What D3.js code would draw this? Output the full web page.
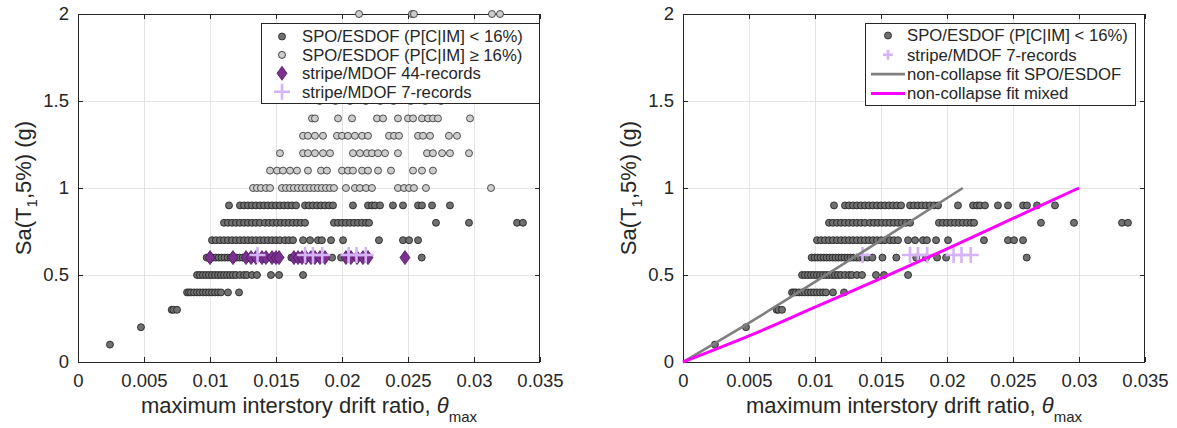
<!DOCTYPE html>
<html>
<head>
<meta charset="utf-8">
<script src="https://cdn.jsdelivr.net/npm/d3@7"></script>
<style>
  body { margin: 0; background: #fff; }
  text { font-family: "Liberation Sans", Arial, sans-serif; fill: #262626; }
</style>
</head>
<body>
<svg id="chart" width="1177" height="428"></svg>
<script>
// Tick values and labels
var driftTicks = [0, 0.005, 0.01, 0.015, 0.02, 0.025, 0.03, 0.035];
var driftTickLabels = ["0", "0.005", "0.01", "0.015", "0.02", "0.025", "0.03", "0.035"];
var saTicks = [0, 0.5, 1, 1.5, 2];
var saTickLabels = ["0", "0.5", "1", "1.5", "2"];

// SPO/ESDOF results with P[C|IM] < 16%: [Sa, list of drifts]
var spoLowRows = [
  [0.1, [0.00242]],
  [0.2, [0.00477]],
  [0.3, [0.0071, 0.00723, 0.0075]],
  [0.4, [0.00826, 0.00841, 0.00856, 0.00879, 0.00902, 0.00924, 0.00947, 0.0097, 0.00992, 0.01015, 0.01038, 0.01061, 0.01083, 0.01136, 0.0122]],
  [0.5, [0.00902, 0.00924, 0.00947, 0.0097, 0.00992, 0.01015, 0.01038, 0.01061, 0.01083, 0.01106, 0.01129, 0.01152, 0.01174, 0.01197, 0.01227, 0.01258, 0.0128, 0.01318, 0.01356, 0.01462, 0.01523, 0.01705]],
  [0.6, [0.00975, 0.00998, 0.0102, 0.01043, 0.01066, 0.01088, 0.01111, 0.01134, 0.01156, 0.01179, 0.01201, 0.01224, 0.01247, 0.01269, 0.01292, 0.01315, 0.01337, 0.01367, 0.01397, 0.01435, 0.01511, 0.01616, 0.01767, 0.01842, 0.01925, 0.01993, 0.02604]],
  [0.7, [0.01015, 0.01045, 0.01076, 0.01106, 0.01136, 0.01167, 0.01197, 0.01227, 0.01258, 0.01288, 0.01318, 0.01348, 0.01379, 0.01409, 0.01439, 0.0147, 0.015, 0.0153, 0.01568, 0.01598, 0.01629, 0.01705, 0.01758, 0.01818, 0.01848, 0.01917, 0.02008, 0.0228, 0.02462, 0.02508, 0.02576]],
  [0.8, [0.01106, 0.01136, 0.01167, 0.01197, 0.01227, 0.01258, 0.01288, 0.01318, 0.01348, 0.01379, 0.01417, 0.01447, 0.01477, 0.01508, 0.01538, 0.01568, 0.01598, 0.01629, 0.01659, 0.01689, 0.0172, 0.01939, 0.0197, 0.02, 0.0203, 0.02061, 0.02091, 0.02121, 0.02152, 0.02182, 0.02205, 0.02712, 0.02962, 0.03326, 0.03371]],
  [0.9, [0.01144, 0.01227, 0.01258, 0.01288, 0.01318, 0.01348, 0.01379, 0.01409, 0.01439, 0.0147, 0.015, 0.0153, 0.01561, 0.01591, 0.01621, 0.01652, 0.0172, 0.0175, 0.0178, 0.01811, 0.01841, 0.01871, 0.01902, 0.01932, 0.02083, 0.02197, 0.02227, 0.0225, 0.02288, 0.02386, 0.02462, 0.02576, 0.02606, 0.02682, 0.02818]]
];

// SPO/ESDOF results with P[C|IM] >= 16%
var spoHighRows = [
  [1.0, [0.01326, 0.01356, 0.01386, 0.01424, 0.01455, 0.01545, 0.01576, 0.01606, 0.01636, 0.01667, 0.01697, 0.01727, 0.01758, 0.01788, 0.01818, 0.01848, 0.01879, 0.01909, 0.01939, 0.0203, 0.02098, 0.02136, 0.02182, 0.02227, 0.02424, 0.0247, 0.02508, 0.02545, 0.02636, 0.03129]],
  [1.1, [0.01455, 0.01508, 0.01553, 0.01606, 0.01659, 0.01742, 0.01841, 0.01886, 0.02, 0.02045, 0.02083, 0.02152, 0.02197, 0.02273, 0.02371, 0.02538, 0.02606, 0.02689]],
  [1.2, [0.0153, 0.01705, 0.01742, 0.01795, 0.01856, 0.01909, 0.02083, 0.02136, 0.02189, 0.02227, 0.02273, 0.02326, 0.02424, 0.02644, 0.02689, 0.02758, 0.02818, 0.02962]],
  [1.3, [0.01705, 0.01742, 0.01795, 0.01856, 0.01962, 0.02, 0.02045, 0.02098, 0.02152, 0.02197, 0.02356, 0.02394, 0.02432, 0.02576, 0.02614, 0.02667, 0.0281, 0.02871]],
  [1.4, [0.01773, 0.01795, 0.0197, 0.02076, 0.02265, 0.02311, 0.02424, 0.025, 0.02538, 0.02606, 0.02652, 0.02689, 0.02727, 0.0297]],
  [1.5, [0.0183, 0.0195, 0.0206, 0.0218, 0.0229, 0.0239, 0.0252, 0.0263, 0.0275]],
  [2.0, [0.02129, 0.0253, 0.02545, 0.03136, 0.03197]]
];

// Stripe analyses on the MDOF model
var stripe44Sa = 0.6;
var stripe44Drift = [0.01, 0.01174, 0.01273, 0.01311, 0.01348, 0.01394, 0.01424, 0.0147, 0.015, 0.01523, 0.01636, 0.01667, 0.01697, 0.01727, 0.01765, 0.01795, 0.01833, 0.01871, 0.0203, 0.02068, 0.02114, 0.02159, 0.02197, 0.02477];
var stripe7Sa = 0.615;
var stripe7Drift = [0.0136, 0.0172, 0.0178, 0.0185, 0.0205, 0.0211, 0.0218];

// Non-collapse fits: [drift, Sa]
var fitSpo = [[0, 0], [0.005, 0.225], [0.01, 0.46], [0.015, 0.70], [0.0212, 1.0]];
var fitMixed = [[0, 0], [0.005, 0.15], [0.01, 0.315], [0.015, 0.48], [0.02, 0.65], [0.025, 0.825], [0.03, 1.0]];

// Flatten the rows into points
function flatten(rows) {
  var pts = [];
  rows.forEach(function(r) {
    r[1].forEach(function(d) { pts.push([d, r[0]]); });
  });
  return pts;
}
var spoLow = flatten(spoLowRows);
var spoHigh = flatten(spoHighRows);

var svg = d3.select("#chart");

var plotTop = 14, plotBottom = 362;
var ink = "#262626";
var darkFill = "#707070", lightFill = "#cdcdcd";
var diamondFill = "#7b2f8f", crossColor = "#d5b3f7";
var diamondPath = "M0,-7L5,0L0,7L-5,0Z";
var crossPath = "M-8,0H8M0,-8V8";

function drawPanel(left, right, isFitPanel) {
  var x = d3.scaleLinear().domain([0, 0.035]).range([left, right]);
  var y = d3.scaleLinear().domain([0, 2]).range([plotBottom, plotTop]);
  var g = svg.append("g");

  // grid
  g.append("g").selectAll("line")
    .data(driftTicks.slice(1, -1))
    .enter().append("line")
    .attr("x1", d => Math.round(x(d)) + 0.5).attr("x2", d => Math.round(x(d)) + 0.5)
    .attr("y1", plotTop).attr("y2", plotBottom)
    .attr("stroke", "#e4e4e4");
  g.append("g").selectAll("line")
    .data(saTicks.slice(1, -1))
    .enter().append("line")
    .attr("y1", d => Math.round(y(d)) + 0.5).attr("y2", d => Math.round(y(d)) + 0.5)
    .attr("x1", left).attr("x2", right)
    .attr("stroke", "#e4e4e4");

  // axes (ticks point inward, mirrored on top and right)
  var xAxis = g.append("g")
    .attr("transform", `translate(0, ${plotBottom})`)
    .call(d3.axisBottom(x).tickValues(driftTicks)
      .tickFormat((d, i) => driftTickLabels[i]).tickSizeInner(-5).tickSizeOuter(0).tickPadding(12));
  var yAxis = g.append("g")
    .attr("transform", `translate(${left}, 0)`)
    .call(d3.axisLeft(y).tickValues(saTicks)
      .tickFormat((d, i) => saTickLabels[i]).tickSizeInner(-5).tickSizeOuter(0).tickPadding(9));
  var xTop = g.append("g")
    .attr("transform", `translate(0, ${plotTop})`)
    .call(d3.axisTop(x).tickValues(driftTicks).tickFormat("").tickSizeInner(-5).tickSizeOuter(0));
  var yRight = g.append("g")
    .attr("transform", `translate(${right}, 0)`)
    .call(d3.axisRight(y).tickValues(saTicks).tickFormat("").tickSizeInner(-5).tickSizeOuter(0));
  [xAxis, yAxis, xTop, yRight].forEach(function(a) {
    a.select(".domain").remove();
    a.selectAll(".tick line").attr("stroke", ink);
    a.selectAll(".tick text").attr("font-size", 18.5).attr("font-family", "Liberation Sans, Arial, sans-serif").attr("fill", ink);
  });

  // box
  g.append("rect")
    .attr("x", left + 0.5).attr("y", plotTop + 0.5)
    .attr("width", right - left - 1).attr("height", plotBottom - plotTop)
    .attr("fill", "none").attr("stroke", ink).attr("stroke-width", 1);

  // data
  g.append("g").selectAll("circle")
    .data(spoLow).enter().append("circle")
    .attr("cx", d => x(d[0])).attr("cy", d => y(d[1])).attr("r", 3.5)
    .attr("fill", darkFill).attr("stroke", "#1a1a1a").attr("stroke-width", 0.8);

  if (!isFitPanel) {
    g.append("g").selectAll("circle")
      .data(spoHigh).enter().append("circle")
      .attr("cx", d => x(d[0])).attr("cy", d => y(d[1])).attr("r", 3.5)
      .attr("fill", lightFill).attr("stroke", "#2a2a2a").attr("stroke-width", 0.8);

    g.append("g").selectAll("path")
      .data(stripe44Drift).enter().append("path")
      .attr("d", diamondPath)
      .attr("transform", d => `translate(${x(d)}, ${y(stripe44Sa)})`)
      .attr("fill", diamondFill).attr("stroke", "#4a1760").attr("stroke-width", 0.8);
  }

  g.append("g").selectAll("path")
    .data(stripe7Drift).enter().append("path")
    .attr("d", crossPath)
    .attr("transform", d => `translate(${x(d)}, ${y(stripe7Sa)})`)
    .attr("fill", "none").attr("stroke", crossColor).attr("stroke-width", 2.6);

  if (isFitPanel) {
    var line = d3.line().x(d => x(d[0])).y(d => y(d[1])).curve(d3.curveMonotoneX);
    g.append("path").datum(fitSpo).attr("d", line)
      .attr("fill", "none").attr("stroke", "#7f7f7f").attr("stroke-width", 2.6);
    g.append("path").datum(fitMixed).attr("d", line)
      .attr("fill", "none").attr("stroke", "#ff00ff").attr("stroke-width", 3);
  }

  // axis titles
  var xl = g.append("text")
    .attr("x", (left + right) / 2).attr("y", 413)
    .attr("text-anchor", "middle").attr("font-size", 22);
  xl.append("tspan").text("maximum interstory drift ratio, ");
  xl.append("tspan").attr("font-style", "italic").text("\u03b8");
  xl.append("tspan").attr("font-size", 15).attr("dy", 9).text("max");

  var yl = g.append("text")
    .attr("transform", `translate(${left - 47}, ${(plotTop + plotBottom) / 2}) rotate(-90)`)
    .attr("text-anchor", "middle").attr("font-size", 22);
  yl.append("tspan").text("Sa(T");
  yl.append("tspan").attr("font-size", 15).attr("dy", 6).text("1");
  yl.append("tspan").attr("dy", -6).text(",5%) (g)");

  return { x: x, y: y, g: g };
}

function drawLegend(box, items) {
  var lg = svg.append("g");
  lg.append("rect")
    .attr("x", box.x + 0.5).attr("y", box.y + 0.5)
    .attr("width", box.w).attr("height", box.h)
    .attr("fill", "#fff").attr("stroke", ink).attr("stroke-width", 1);
  items.forEach(function(it, i) {
    var cy = box.y + box.first + i * box.step;
    var mx = box.x + box.markerX;
    if (it.type === "dot") {
      lg.append("circle").attr("cx", mx).attr("cy", cy).attr("r", 3.5)
        .attr("fill", it.fill).attr("stroke", "#1a1a1a").attr("stroke-width", 0.8);
    } else if (it.type === "diamond") {
      lg.append("path").attr("d", diamondPath).attr("transform", `translate(${mx}, ${cy})`)
        .attr("fill", diamondFill).attr("stroke", "#4a1760").attr("stroke-width", 0.8);
    } else if (it.type === "cross") {
      lg.append("path").attr("d", it.small ? "M-5,0H5M0,-5V5" : crossPath).attr("transform", `translate(${mx}, ${cy})`)
        .attr("fill", "none").attr("stroke", crossColor).attr("stroke-width", 2.6);
    } else {
      lg.append("line").attr("x1", box.x + box.lineX0).attr("x2", box.x + box.lineX1)
        .attr("y1", cy).attr("y2", cy)
        .attr("stroke", it.color).attr("stroke-width", it.width);
    }
    lg.append("text").attr("x", box.x + box.textX).attr("y", cy).attr("dy", "0.35em")
      .attr("font-size", 16.7).text(it.label);
  });
}

drawPanel(78, 540, false);
drawPanel(683, 1145, true);

drawLegend({ x: 261, y: 23, w: 278, h: 80, first: 13.5, step: 18.4, markerX: 21, textX: 41 }, [
  { type: "dot", fill: darkFill, label: "SPO/ESDOF (P[C|IM] < 16%)" },
  { type: "dot", fill: lightFill, label: "SPO/ESDOF (P[C|IM] \u2265 16%)" },
  { type: "diamond", label: "stripe/MDOF 44-records" },
  { type: "cross", label: "stripe/MDOF 7-records" }
]);

drawLegend({ x: 865, y: 23, w: 270, h: 82, first: 12.5, step: 19.3, markerX: 23, textX: 42, lineX0: 6, lineX1: 40 }, [
  { type: "dot", fill: darkFill, label: "SPO/ESDOF (P[C|IM] < 16%)" },
  { type: "cross", small: true, label: "stripe/MDOF 7-records" },
  { type: "line", color: "#7f7f7f", width: 2.6, label: "non-collapse fit SPO/ESDOF" },
  { type: "line", color: "#ff00ff", width: 3, label: "non-collapse fit mixed" }
]);
</script>
</body>
</html>
